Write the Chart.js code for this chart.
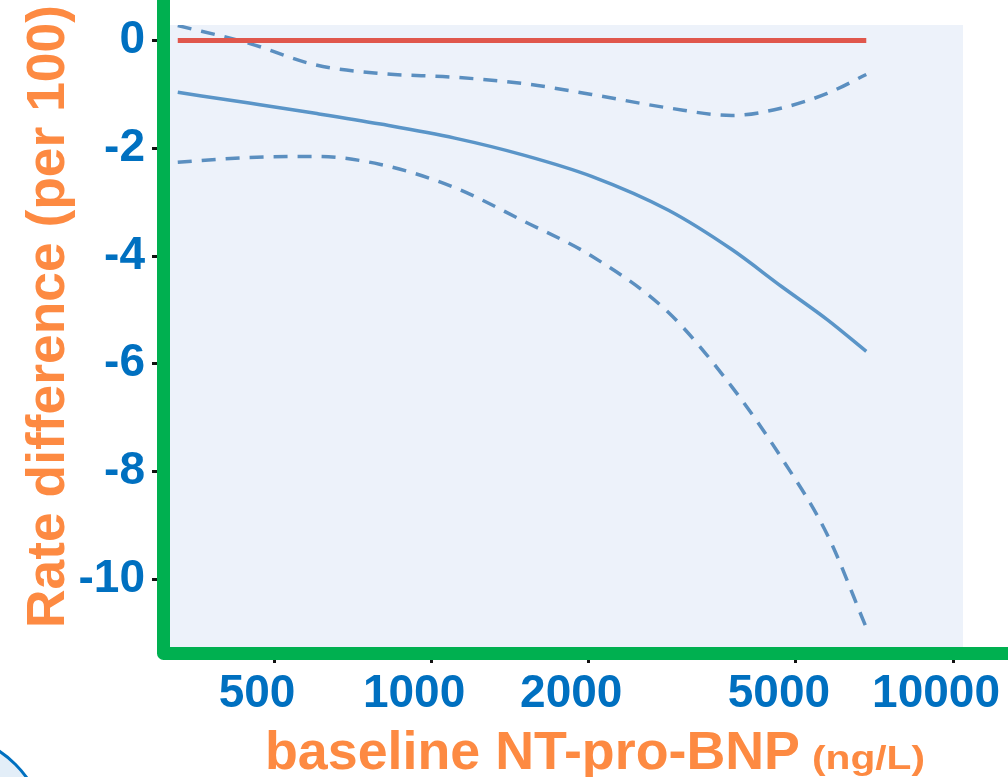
<!DOCTYPE html>
<html>
<head>
<meta charset="utf-8">
<script src="https://cdn.jsdelivr.net/npm/chart.js@4"></script>
<style>
  html, body { margin: 0; padding: 0; background: #fff; }
  canvas { display: block; }
</style>
</head>
<body>
<canvas id="chart" width="1008" height="777"></canvas>
<script>
// baseline NT-pro-BNP (ng/L) sample points
const bnp = [327, 448, 600, 800, 1110, 1510, 2030, 2850, 3770, 4700, 5740, 6820];
// rate difference per 100
const estimate = [-0.96, -1.16, -1.35, -1.55, -1.81, -2.13, -2.52, -3.15, -3.88, -4.57, -5.18, -5.77];
const upperCI  = [0.28, -0.05, -0.45, -0.61, -0.68, -0.80, -1.00, -1.25, -1.39, -1.25, -0.98, -0.63];
const lowerCI  = [-2.26, -2.17, -2.15, -2.30, -2.73, -3.36, -4.00, -5.05, -6.43, -7.76, -9.17, -10.9];
const nullX = [327, 6820];
const nullY = [0, 0];
const xTicks = [500, 1000, 2000, 5000, 10000];
const yTicks = [-10, -8, -6, -4, -2, 0];

const BLUE = '#0070c0';
const ORANGE = '#fd8a42';
const GREEN = '#00b050';
const FONT = '"Liberation Sans", Arial, sans-serif';

const pts = (xs, ys) => xs.map((x, i) => ({ x: x, y: ys[i] }));

const bgPlugin = {
  id: 'bg',
  beforeDraw(chart) {
    const { ctx, chartArea: a } = chart;
    ctx.save();
    ctx.fillStyle = '#fff';
    ctx.fillRect(0, 0, chart.width, chart.height);
    ctx.fillStyle = '#edf2fa';
    ctx.fillRect(a.left, a.top, a.right - a.left, a.bottom - a.top);
    ctx.restore();
  }
};

function fitText(ctx, text, x, y, width) {
  const w = ctx.measureText(text).width;
  ctx.save();
  ctx.translate(x, y);
  ctx.scale(width / w, 1);
  ctx.fillText(text, 0, 0);
  ctx.restore();
}

// keep the plot box where it is in the original, labels may overflow
function noOverflow(s) {
  s.paddingLeft = 0;
  s.paddingRight = 0;
  s.paddingTop = 0;
  s.paddingBottom = 0;
}

const decoPlugin = {
  id: 'deco',
  afterDraw(chart) {
    const ctx = chart.ctx;
    ctx.save();
    // green frame
    ctx.strokeStyle = GREEN;
    ctx.lineWidth = 13;
    ctx.lineJoin = 'round';
    ctx.beginPath();
    ctx.moveTo(163.5, 0);
    ctx.lineTo(163.5, 653.5);
    ctx.lineTo(1010, 653.5);
    ctx.stroke();

    // axis titles
    ctx.fillStyle = ORANGE;
    ctx.textAlign = 'left';
    ctx.textBaseline = 'alphabetic';
    ctx.font = 'bold 53px ' + FONT;
    fitText(ctx, 'baseline NT-pro-BNP', 265, 769, 535);
    ctx.font = 'bold 33px ' + FONT;
    fitText(ctx, '(ng/L)', 812, 769, 113);

    ctx.save();
    ctx.translate(64, 628);
    ctx.rotate(-Math.PI / 2);
    ctx.font = 'bold 53px ' + FONT;
    fitText(ctx, 'Rate difference (per 100)', 0, 0, 623);
    ctx.restore();

    // corner logo fragments
    ctx.beginPath();
    ctx.arc(-58, 838, 104, 0, Math.PI * 2);
    ctx.fillStyle = '#e3eef8';
    ctx.fill();
    ctx.lineWidth = 3;
    ctx.strokeStyle = BLUE;
    ctx.stroke();
    ctx.beginPath();
    ctx.arc(1060, 830, 70, 0, Math.PI * 2);
    ctx.stroke();
    ctx.restore();
  }
};

new Chart(document.getElementById('chart'), {
  type: 'line',
  data: {
    datasets: [
      { data: pts(nullX, nullY), borderColor: '#e0574c', borderWidth: 5, tension: 0 },
      { data: pts(bnp, estimate), borderColor: '#5a95c8', borderWidth: 3.5 },
      { data: pts(bnp, upperCI), borderColor: '#5b8fc0', borderWidth: 3.5, borderDash: [14, 10] },
      { data: pts(bnp, lowerCI), borderColor: '#5b8fc0', borderWidth: 3.5, borderDash: [14, 10] }
    ]
  },
  options: {
    responsive: false,
    animation: false,
    layout: { padding: { top: 25, right: 45, left: 0, bottom: 0 } },
    elements: {
      point: { radius: 0 },
      line: { tension: 0.4, cubicInterpolationMode: 'monotone', fill: false }
    },
    plugins: { legend: { display: false }, tooltip: { enabled: false } },
    scales: {
      x: {
        type: 'logarithmic',
        min: 316,
        max: 10450,
        afterBuildTicks: s => { s.ticks = xTicks.map(v => ({ value: v })); },
        afterFit: s => { s.height = 130; noOverflow(s); },
        border: { display: false },
        grid: { drawOnChartArea: false, tickLength: 16, tickColor: '#111', tickWidth: 3 },
        ticks: {
          autoSkip: false,
          maxRotation: 0,
          padding: 8,
          labelOffset: -17,
          color: BLUE,
          font: { family: FONT, size: 46, weight: 'bold', lineHeight: 1 },
          callback: v => String(v)
        }
      },
      y: {
        type: 'linear',
        min: -11.26,
        max: 0.29,
        afterBuildTicks: s => { s.ticks = yTicks.map(v => ({ value: v })); },
        afterFit: s => { s.width = 170; noOverflow(s); },
        border: { display: false },
        grid: { drawOnChartArea: false, tickLength: 18, tickColor: '#111', tickWidth: 3 },
        ticks: {
          padding: 7,
          color: BLUE,
          font: { family: FONT, size: 46, weight: 'bold', lineHeight: 1 },
          callback: v => String(v)
        }
      }
    }
  },
  plugins: [bgPlugin, decoPlugin]
});
</script>
</body>
</html>
